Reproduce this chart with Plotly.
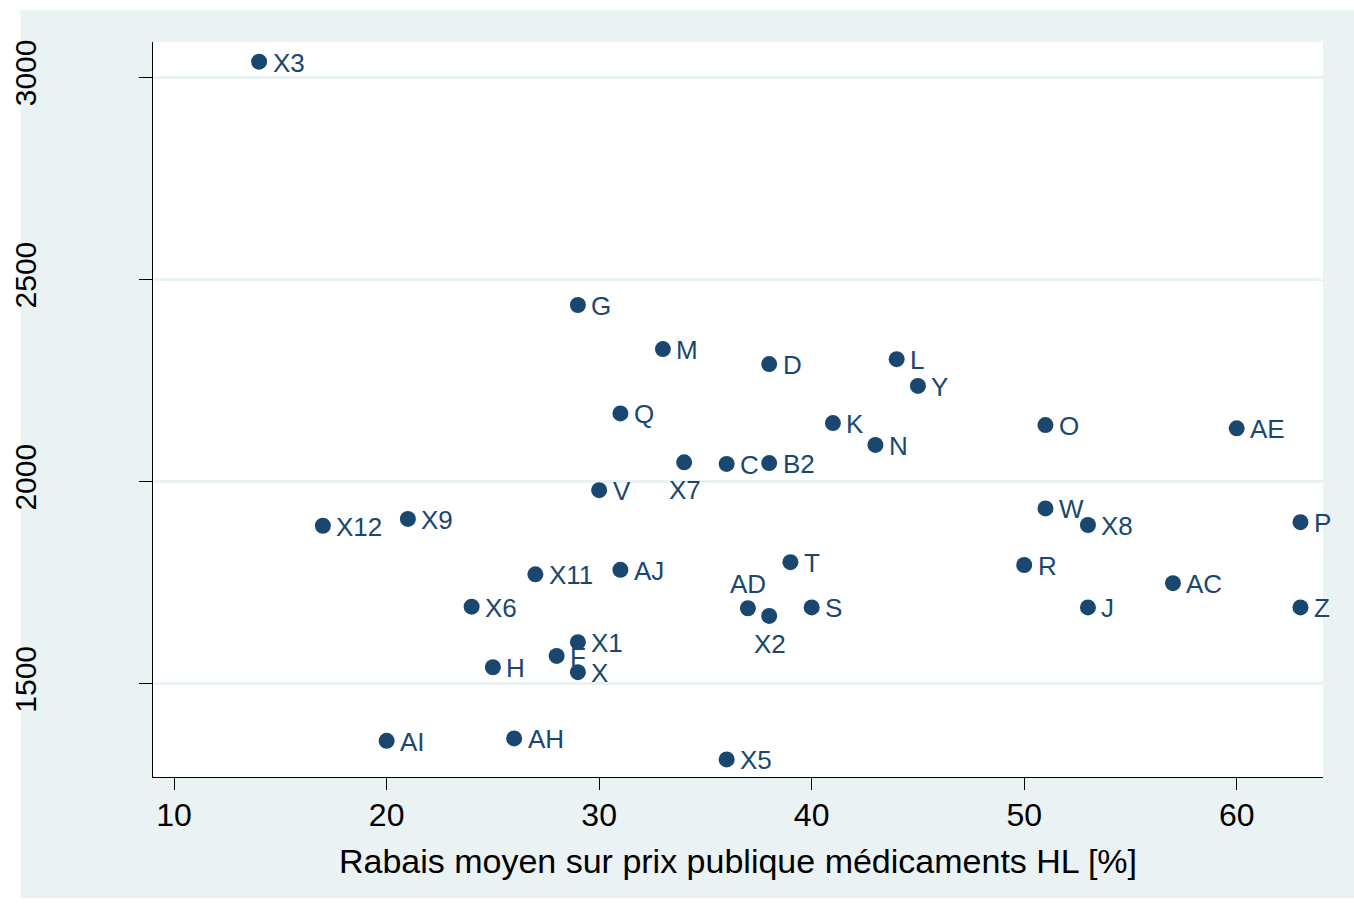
import plotly.graph_objects as go

# ---- data ----
labels = ["X3", "G", "M", "D", "L", "Y", "Q", "K", "N", "O", "AE",
          "X7", "C", "B2", "V", "W", "X8", "P", "X12", "X9", "T", "R",
          "X11", "AJ", "AC", "X6", "AD", "X2", "S", "J", "Z", "X1", "F",
          "H", "X", "AI", "AH", "X5"]
rabais = [14, 29, 33, 38, 44, 45, 31, 41, 43, 51, 60,
          34, 36, 38, 30, 51, 53, 63, 17, 21, 39, 50,
          27, 31, 57, 24, 37, 38, 40, 53, 63, 29, 28,
          25, 29, 20, 26, 36]
valeur = [3039, 2437, 2328, 2291, 2303, 2237, 2169, 2145, 2091, 2140, 2132,
          2048, 2044, 2046, 1979, 1934, 1893, 1900, 1891, 1908, 1801, 1794,
          1771, 1782, 1749, 1691, 1687, 1668, 1689, 1689, 1689, 1603, 1569,
          1541, 1529, 1359, 1365, 1313]

x_ticks = [10, 20, 30, 40, 50, 60]
y_ticks = [1500, 2000, 2500, 3000]
x_title = "Rabais moyen sur prix publique médicaments HL [%]"

# label placement (style)
below = {"X7", "X2"}
above = {"AD"}

NAVY = "#1a476f"
BG = "#eaf2f3"
FONT = "Liberation Sans, Arial, sans-serif"

fig = go.Figure()

annotations = []
for lab, xv, yv in zip(labels, rabais, valeur):
    if lab in below:
        a = dict(xanchor="center", yanchor="top", xshift=1, yshift=-11)
    elif lab in above:
        a = dict(xanchor="center", yanchor="bottom", xshift=0, yshift=7)
    else:
        a = dict(xanchor="left", yanchor="middle", xshift=11.5, yshift=-1)
    annotations.append(dict(x=xv, y=yv, xref="x", yref="y", text=lab, showarrow=False,
                            font=dict(family=FONT, size=26, color=NAVY), **a))

fig.add_trace(go.Scatter(
    x=rabais, y=valeur, mode="markers", text=labels,
    marker=dict(size=16, color=NAVY, line=dict(width=0)),
    showlegend=False, cliponaxis=False,
))

fig.update_layout(
    width=1354, height=904,
    margin=dict(l=153, r=31, t=42, b=127),
    paper_bgcolor="white", plot_bgcolor="white",
    font=dict(family=FONT, color="black"),
    annotations=annotations,
    shapes=[
        dict(type="rect", xref="paper", yref="paper",
             x0=-0.113, x1=1.03, y0=-0.165, y1=1.0435,
             fillcolor=BG, line=dict(width=0), layer="below"),
        dict(type="rect", xref="paper", yref="paper",
             x0=0, x1=1, y0=0, y1=1,
             fillcolor="white", line=dict(width=0), layer="below"),
    ],
    xaxis=dict(range=[9.007, 64.06], tickvals=x_ticks, automargin=False,
               showgrid=False, zeroline=False,
               showline=True, linecolor="black", linewidth=1.3,
               ticks="outside", ticklen=12, tickwidth=1.3, tickcolor="black",
               ticklabelstandoff=-3,
               tickfont=dict(size=32, family=FONT, color="black"),
               title=dict(text=x_title, font=dict(size=34, family=FONT, color="black"),
                          standoff=17)),
    yaxis=dict(range=[1269.6, 3087.6], tickvals=y_ticks, automargin=False,
               showgrid=True, gridcolor=BG, gridwidth=2.5, zeroline=False,
               showline=True, linecolor="black", linewidth=1.3,
               ticks="outside", ticklen=13, tickwidth=1.3, tickcolor="black",
               tickangle=-90, ticklabelstandoff=91,
               tickfont=dict(size=30, family=FONT, color="black")),
)

fig.write_html("out.html", config={"displayModeBar": False},
               post_script="document.body.style.margin='0';")
